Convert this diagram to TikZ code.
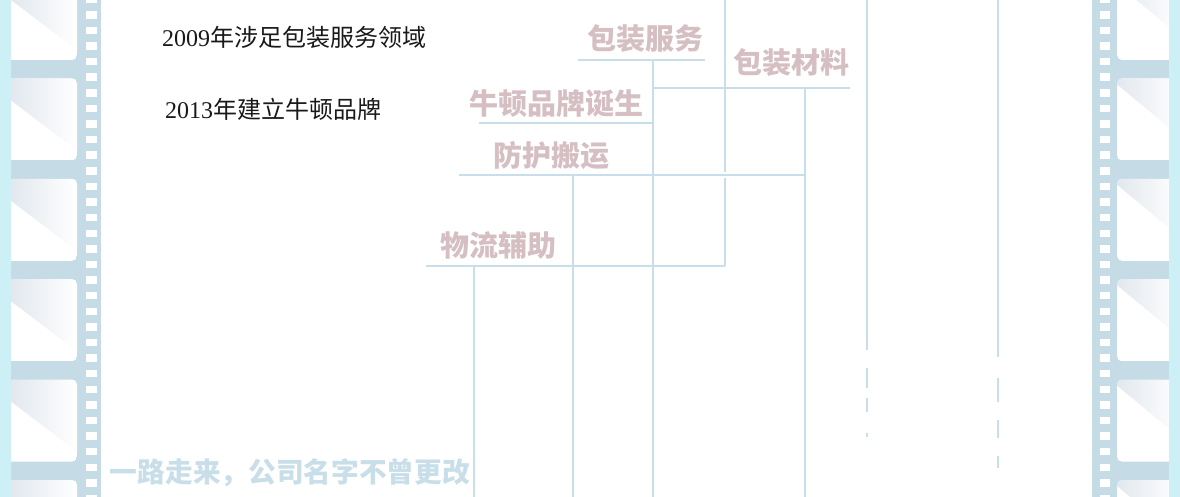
\documentclass[tikz,border=0pt]{standalone}
\usepackage{fontspec}
\setmainfont{Liberation Serif}
\newfontfamily\cjk{Noto Sans CJK SC}

\definecolor{film}{HTML}{C5DCE6}
\definecolor{edge}{HTML}{CDEFF6}
\definecolor{shadow}{HTML}{E2E8EE}
\definecolor{rulecol}{HTML}{C8DEEA}
\definecolor{tagpink}{HTML}{D5BFC3}
\definecolor{mottocol}{HTML}{C8DEE8}

\begin{document}
\begin{tikzpicture}[x=1pt,y=-1pt,
  tag/.style={font=\cjk\bfseries\fontsize{29}{29}\selectfont,text=tagpink,inner sep=0pt},
  note/.style={font=\fontsize{24}{24}\selectfont,text=black!90,inner sep=0pt,anchor=west},
  rule/.style={draw=rulecol,line width=2pt},
  hole/.style={fill=white}]
\def\fh{82}
\def\fp{100.4}
\useasboundingbox (0,0) rectangle (1180,497);

% film strips
\fill[film] (11,0) rectangle (101,497);
\fill[film] (1092,0) rectangle (1169,497);
\foreach \k in {0,...,5}{
  \pgfmathsetmacro\t{-22+\fp*\k}
  \begin{scope}
    \clip[rounded corners=5pt] (5,\t) rectangle (77,\t+\fh);
    \fill[white] (5,\t) rectangle (77,\t+\fh);
    \shade[left color=shadow,right color=white] (11,\t) -- (77,\t) -- (77,\t+72) -- (11,\t+22) -- cycle;
  \end{scope}
  \begin{scope}
    \clip[rounded corners=5pt] (1117,\t) rectangle (1185,\t+\fh);
    \fill[white] (1117,\t) rectangle (1185,\t+\fh);
    \shade[left color=shadow,right color=white] (1117,\t) -- (1180,\t) -- (1180,\t+58) -- (1117,\t+6) -- cycle;
  \end{scope}
}
\foreach \k in {0,...,32}{
  \fill[hole] (86,-4.5+15.6*\k) rectangle +(11,7.5);
  \fill[hole] (1100,-4.5+15.6*\k) rectangle +(10,7.5);
}
\fill[edge] (0,0) rectangle (11,497);
\fill[edge] (1169,0) rectangle (1180,497);

% notes
\node[note] (note2009) at (162,37) {2009{\cjk 年涉足包装服务领域}};
\node[note] (note2013) at (165,109) {2013{\cjk 年建立牛顿品牌}};

% labels
\node[tag] (lblService) at (645,39) {包装服务};
\node[tag] (lblMaterial) at (791,63) {包装材料};
\node[tag] (lblBrand) at (556,104) {牛顿品牌诞生};
\node[tag] (lblProtect) at (551,156) {防护搬运};
\node[tag] (lblLogistics) at (498,245) {物流辅助};
\node[tag,text=mottocol,font=\cjk\bfseries\fontsize{27.7}{27.7}\selectfont] (lblMotto) at (290,473) {一路走来，公司名字不曾更改};

% rules
\coordinate (svcL) at (578,60);
\coordinate (svcR) at (705,60);
\coordinate (svcJ) at (653,60);
\coordinate (svcB) at (653,497);
\coordinate (matL) at (653,88);
\coordinate (matR) at (850,88);
\coordinate (matB) at (805,497);
\coordinate (brdL) at (479,123);
\coordinate (brdR) at (653,123);
\coordinate (proL) at (459,175);
\coordinate (proR) at (805,175);
\coordinate (proB) at (573,497);
\coordinate (logL) at (426,266);
\coordinate (logR) at (725,266);
\coordinate (logB) at (474,497);
\coordinate (midT) at (725,0);
\coordinate (midA) at (725,172);
\coordinate (midC) at (725,178);
\draw[rule] (svcL) -- (svcR);
\draw[rule] (svcJ) -- (svcB);
\draw[rule] (matL) -- (matR);
\draw[rule] (matB |- matL) -- (matB);
\draw[rule] (brdL) -- (brdR);
\draw[rule] (proL) -- (proR);
\draw[rule] (proB |- proL) -- (proB);
\draw[rule] (logL) -- (logR);
\draw[rule] (logB |- logL) -- (logB);
\draw[rule] (midT) -- (midA);
\draw[rule] (midC) -- (logR);

% far right lines, breaking up
\foreach \a/\b in {0/350,368/388,398/412,433/437}
  \draw[rule] (867,\a) -- (867,\b);
\foreach \a/\b in {0/357,378/402,420/438,456/468}
  \draw[rule] (998,\a) -- (998,\b);

\end{tikzpicture}
\end{document}
